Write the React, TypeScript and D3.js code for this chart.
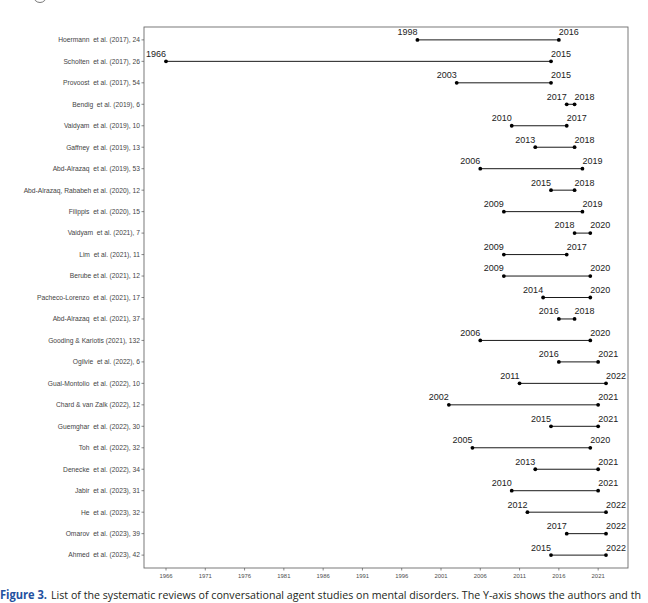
import * as d3 from "d3"

// Reviews, top to bottom
const reviews = [
  "Hoermann  et al. (2017), 24",
  "Scholten  et al. (2017), 26",
  "Provoost  et al. (2017), 54",
  "Bendig  et al. (2019), 6",
  "Vaidyam  et al. (2019), 10",
  "Gaffney  et al. (2019), 13",
  "Abd-Alrazaq  et al. (2019), 53",
  "Abd-Alrazaq, Rababeh et al. (2020), 12",
  "Filippis  et al. (2020), 15",
  "Vaidyam  et al. (2021), 7",
  "Lim  et al. (2021), 11",
  "Berube et al. (2021), 12",
  "Pacheco-Lorenzo  et al. (2021), 17",
  "Abd-Alrazaq  et al. (2021), 37",
  "Gooding & Kariotis (2021), 132",
  "Ogilvie  et al. (2022), 6",
  "Gual-Montolio  et al. (2022), 10",
  "Chard & van Zalk (2022), 12",
  "Guemghar  et al. (2022), 30",
  "Toh  et al. (2022), 32",
  "Denecke  et al. (2022), 34",
  "Jabir  et al. (2023), 31",
  "He  et al. (2023), 32",
  "Omarov  et al. (2023), 39",
  "Ahmed  et al. (2023), 42",
]
const startYears = [1998, 1966, 2003, 2017, 2010, 2013, 2006, 2015, 2009, 2018, 2009, 2009, 2014, 2016, 2006, 2016, 2011, 2002, 2015, 2005, 2013, 2010, 2012, 2017, 2015]
const endYears = [2016, 2015, 2015, 2018, 2017, 2018, 2019, 2018, 2019, 2020, 2017, 2020, 2020, 2018, 2020, 2021, 2022, 2021, 2021, 2020, 2021, 2021, 2022, 2022, 2022]
const xTicks = [1966, 1971, 1976, 1981, 1986, 1991, 1996, 2001, 2006, 2011, 2016, 2021]

const captionLead = "Figure 3."
const captionText = "List of the systematic reviews of conversational agent studies on mental disorders. The Y-axis shows the authors and th"

export default function App() {
  const width = 648
  const height = 603
  const panel = { left: 144, right: 628, top: 27, bottom: 568 }

  const x = d3.scaleLinear().domain([1963.2, 2024.8]).range([panel.left, panel.right])
  const y = d3
    .scalePoint<string>()
    .domain(reviews)
    .range([panel.top, panel.bottom])
    .padding(0.6)

  const font = "'Liberation Sans', Arial, sans-serif"
  const capFont = "'Open Sans', 'Noto Sans', sans-serif"

  return (
    <svg
      width={width}
      height={height}
      style={{ position: "absolute", left: 0, top: 0, background: "#fff", fontFamily: font }}
    >
      {/* partial circled panel letter at the top */}
      <circle cx={40} cy={-4} r={6.5} fill="none" stroke="#555" strokeWidth={0.8} />

      {/* panel border */}
      <rect
        x={panel.left}
        y={panel.top}
        width={panel.right - panel.left}
        height={panel.bottom - panel.top}
        fill="none"
        stroke="#6b6b6b"
        strokeWidth={0.9}
      />

      {/* y axis */}
      {reviews.map((r) => (
        <g key={r} transform={`translate(0,${y(r)})`}>
          <line x1={panel.left - 2.5} x2={panel.left} stroke="#555" strokeWidth={0.7} />
          <text
            x={panel.left - 4}
            dy="0.35em"
            textAnchor="end"
            fontSize={6.7}
            fill="#444"
            style={{ whiteSpace: "pre" }}
          >
            {r}
          </text>
        </g>
      ))}

      {/* x axis */}
      {xTicks.map((t) => (
        <g key={t} transform={`translate(${x(t)},${panel.bottom})`}>
          <line y1={0} y2={2.5} stroke="#555" strokeWidth={0.7} />
          <text y={10} textAnchor="middle" fontSize={5.9} fill="#4d4d4d">
            {t}
          </text>
        </g>
      ))}

      {/* segments */}
      {reviews.map((r, i) => {
        const yy = y(r) || 0
        const x0 = x(startYears[i])
        const x1 = x(endYears[i])
        return (
          <g key={"s" + i}>
            <line x1={x0} x2={x1} y1={yy} y2={yy} stroke="#1a1a1a" strokeWidth={1} />
            <circle cx={x0} cy={yy} r={1.9} fill="#000" />
            <circle cx={x1} cy={yy} r={1.9} fill="#000" />
            <text x={x0} y={yy - 4.6} textAnchor="end" fontSize={9} fill="#222">
              {startYears[i]}
            </text>
            <text x={x1} y={yy - 4.6} textAnchor="start" fontSize={9} fill="#222">
              {endYears[i]}
            </text>
          </g>
        )
      })}

      {/* caption: condensed by drawing a smaller font stretched vertically */}
      <g transform="translate(0,599) scale(1,1.25)">
        <text
          x={0}
          y={0}
          fontFamily={capFont}
          fontSize={9.4}
          fontWeight="bold"
          fill="#2451a0"
          textLength={47}
          lengthAdjust="spacingAndGlyphs"
        >
          {captionLead}
        </text>
        <text
          x={51}
          y={0}
          fontFamily={capFont}
          fontSize={9.2}
          fill="#231f20"
          textLength={590}
          lengthAdjust="spacingAndGlyphs"
        >
          {captionText}
        </text>
      </g>
    </svg>
  )
}
